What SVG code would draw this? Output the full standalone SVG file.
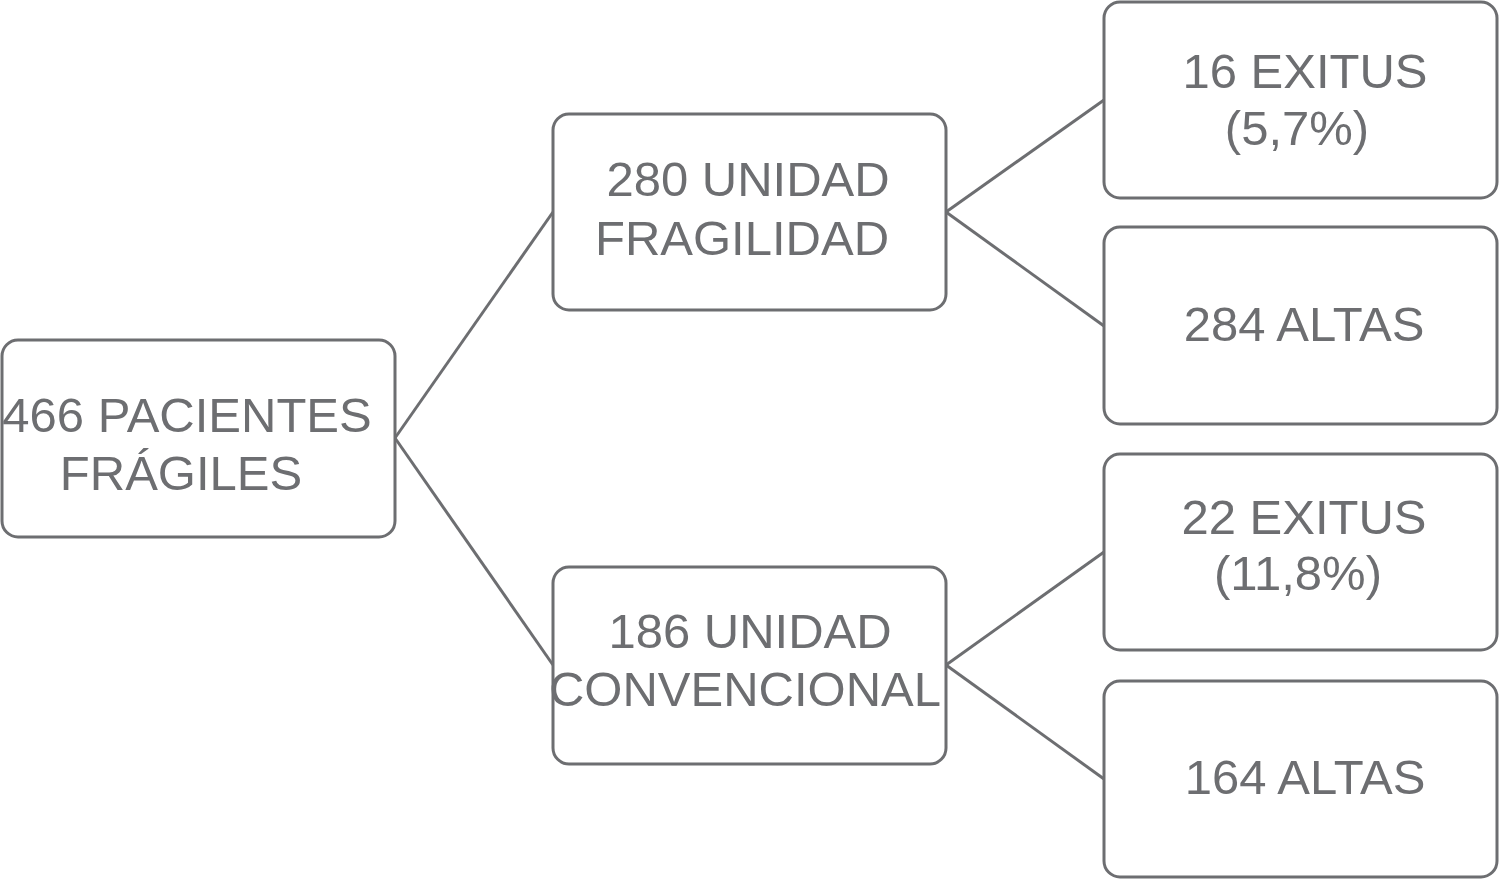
<svg xmlns="http://www.w3.org/2000/svg" width="1500" height="879" viewBox="0 0 1500 879">
<style>
.box{fill:#ffffff;stroke:#6d6e71;stroke-width:3}
.lbl{font-family:"Liberation Sans",Arial,sans-serif;font-size:49px;fill:#6d6e71;text-anchor:middle}
.con{stroke:#6d6e71;stroke-width:3;fill:none}
</style>
<rect width="1500" height="879" fill="#ffffff"/>
<g id="connectors">
<line class="con" x1="395" y1="438" x2="553" y2="212"/>
<line class="con" x1="395" y1="438" x2="553" y2="665"/>
<line class="con" x1="946" y1="212" x2="1104" y2="100"/>
<line class="con" x1="946" y1="212" x2="1104" y2="326"/>
<line class="con" x1="946" y1="665" x2="1104" y2="552"/>
<line class="con" x1="946" y1="665" x2="1104" y2="779"/>
</g>
<g id="root">
<rect class="box" x="2" y="340" width="393" height="197" rx="16"/>
<text class="lbl" x="187" y="432">466 PACIENTES</text>
<text class="lbl" x="181" y="490">FRÁGILES</text>
</g>
<g id="fragilidad">
<rect class="box" x="553" y="114" width="393" height="196" rx="16"/>
<text class="lbl" x="748" y="196">280 UNIDAD</text>
<text class="lbl" x="742" y="255">FRAGILIDAD</text>
</g>
<g id="convencional">
<rect class="box" x="553" y="567" width="393" height="197" rx="16"/>
<text class="lbl" x="750" y="648">186 UNIDAD</text>
<text class="lbl" x="745" y="706">CONVENCIONAL</text>
</g>
<g id="exitus1">
<rect class="box" x="1104" y="2" width="393" height="196" rx="16"/>
<text class="lbl" x="1305" y="88">16 EXITUS</text>
<text class="lbl" x="1297" y="145">(5,7%)</text>
</g>
<g id="altas1">
<rect class="box" x="1104" y="227" width="393" height="197" rx="16"/>
<text class="lbl" x="1304" y="341">284 ALTAS</text>
</g>
<g id="exitus2">
<rect class="box" x="1104" y="454" width="393" height="196" rx="16"/>
<text class="lbl" x="1304" y="534">22 EXITUS</text>
<text class="lbl" x="1298" y="590">(11,8%)</text>
</g>
<g id="altas2">
<rect class="box" x="1104" y="681" width="393" height="196" rx="16"/>
<text class="lbl" x="1305" y="794">164 ALTAS</text>
</g>
</svg>
